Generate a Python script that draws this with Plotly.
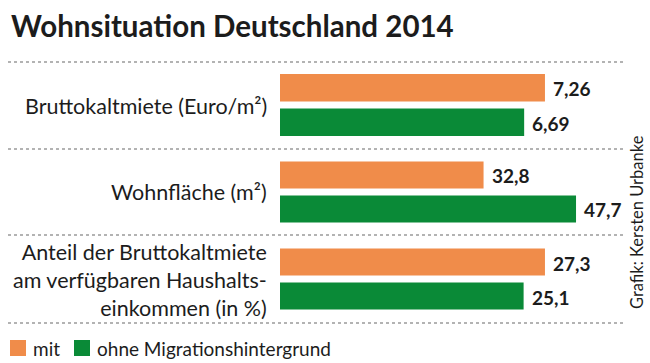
import plotly.graph_objects as go

W, H = 650, 363

categories = ["Bruttokaltmiete (Euro/m²)", "Wohnfläche (m²)",
              "Anteil der Bruttokaltmiete<br>am verfügbaren Haushalts-<br>einkommen (in %)"]
series_names = ["mit", "ohne Migrationshintergrund"]
mit_values = [7.26, 32.8, 27.3]
ohne_values = [6.69, 47.7, 25.1]
title_text = "Wohnsituation Deutschland 2014"
credit_text = "Grafik: Kersten Urbanke"

ORANGE = "#F08C4A"
GREEN = "#0A8A37"
TEXT = "#1c1c1c"
FONT = "Lato"

def px(x):
    return x / W

def py(y):
    return 1 - y / H

def fmt(v):
    return f"{v}".replace(".", ",")

# per-group axis ranges (each group has its own scale)
x_ranges = [[0, 8.22], [0, 48.34], [0, 30.91]]
# vertical pixel bands of each group (top, bottom)
bands = [(70.5, 139.5), (158.0, 226.0), (245.0, 313.0)]
label_y = [106, 192, 280]

fig = go.Figure()
for i in range(3):
    sfx = "" if i == 0 else str(i + 1)
    for j, (vals, col) in enumerate([(mit_values, ORANGE), (ohne_values, GREEN)]):
        fig.add_trace(go.Bar(
            x=[vals[i]], y=[j], orientation="h",
            marker=dict(color=col, line=dict(width=0)),
            width=0.8,
            showlegend=False,
            xaxis="x" + sfx, yaxis="y" + sfx,
            hoverinfo="skip",
        ))
        fig.add_annotation(text=f"<b>{fmt(vals[i])}</b>",
                           xref="x" + sfx, yref="y" + sfx,
                           x=vals[i], y=j, xanchor="left", yanchor="middle",
                           xshift=6, yshift=-1, showarrow=False,
                           font=dict(family=FONT, size=19, color=TEXT))

layout = dict(
    width=W, height=H,
    margin=dict(l=0, r=0, t=0, b=0),
    paper_bgcolor="white", plot_bgcolor="white",
    separators=",.",
    font=dict(family=FONT, color=TEXT),
    showlegend=False,
)
for i in range(3):
    sfx = "" if i == 0 else str(i + 1)
    top, bot = bands[i]
    layout["xaxis" + sfx] = dict(domain=[px(280), px(580)], range=x_ranges[i],
                                 visible=False, fixedrange=True,
                                 anchor="y" + sfx)
    layout["yaxis" + sfx] = dict(domain=[py(bot), py(top)], range=[1.5, -0.5],
                                 visible=False, fixedrange=True,
                                 anchor="x" + sfx)
fig.update_layout(**layout)

# dotted separators
for y in [62, 149, 235, 323]:
    fig.add_shape(type="line", xref="paper", yref="paper",
                  x0=px(8), x1=px(623), y0=py(y), y1=py(y),
                  line=dict(color="#9a9a9a", width=1.5, dash="dot"))

# title
fig.add_annotation(text=f"<b>{title_text}</b>", xref="paper", yref="paper",
                   x=px(9), y=py(25), xanchor="left", yanchor="middle",
                   showarrow=False, font=dict(family=FONT, size=29.5, color=TEXT))

# category labels
for lab, yc in zip(categories, label_y):
    fig.add_annotation(text=lab, xref="paper", yref="paper",
                       x=px(269), y=py(yc), xanchor="right", yanchor="middle",
                       align="right", showarrow=False,
                       font=dict(family=FONT, size=21.5, color=TEXT))

# credit
fig.add_annotation(text=credit_text, xref="paper", yref="paper",
                   x=px(637), y=py(222), xanchor="center", yanchor="middle",
                   textangle=-90, showarrow=False,
                   font=dict(family=FONT, size=16.5, color=TEXT))

# legend
leg = [(10, ORANGE, series_names[0], 31), (74, GREEN, series_names[1], 95)]
for x0, col, name, tx in leg:
    fig.add_shape(type="rect", xref="paper", yref="paper",
                  x0=px(x0), x1=px(x0 + 16), y0=py(356), y1=py(340),
                  fillcolor=col, line=dict(width=0))
    fig.add_annotation(text=name, xref="paper", yref="paper",
                       x=px(tx), y=py(348), xanchor="left", yanchor="middle",
                       showarrow=False, font=dict(family=FONT, size=19, color=TEXT))

fig.write_html("out.html",
               config={"displayModeBar": False},
               post_script="document.body.style.margin='0';document.body.style.overflow='hidden';")
